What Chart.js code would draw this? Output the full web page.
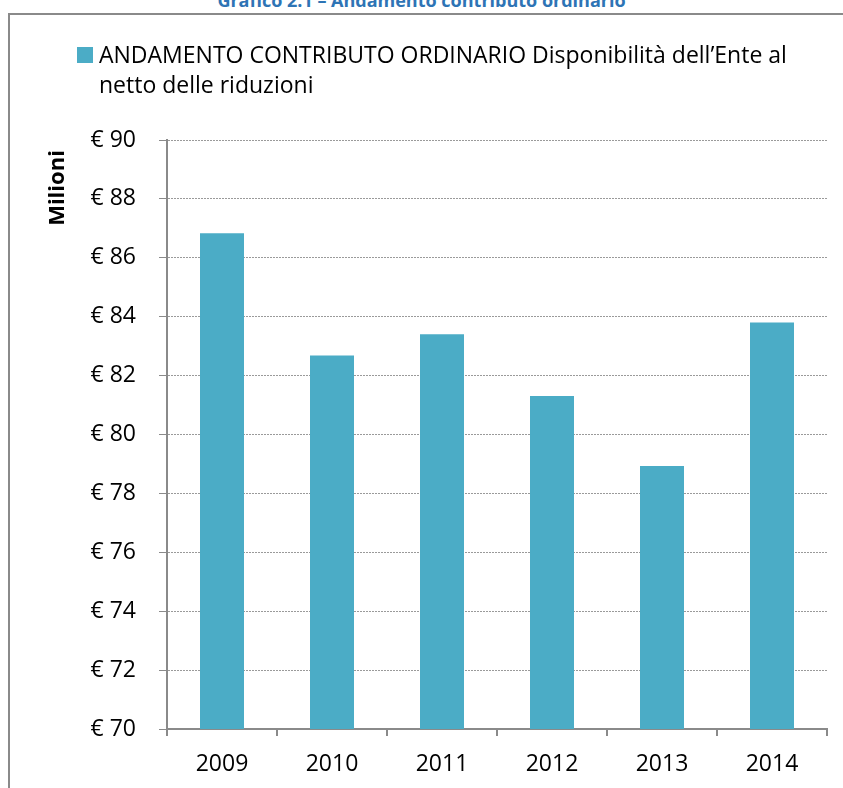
<!DOCTYPE html>
<html>
<head>
<meta charset="utf-8">
<script src="https://cdn.jsdelivr.net/npm/chart.js@4"></script>
<style>
    html, body { margin: 0; padding: 0; width: 843px; height: 788px; overflow: hidden; background: #fff; }
    /* ── figure caption, cut at the top like the original ── */
    #caption {
        position: absolute; left: 0; top: -12px; width: 843px;
        text-align: center; font: bold 18px 'Open Sans', sans-serif; line-height: 24px;
        color: #2E74B5;
    }
    #frame {
        position: absolute; left: 8px; top: 13px; width: 900px; height: 900px;
        border: 2px solid #8a8a8a;
    }
    #chart { position: absolute; left: 0; top: 0; }
</style>
</head>
<body>
<div id="caption">Grafico 2.1 – Andamento contributo ordinario</div>
<div id="frame"></div>
<canvas id="chart" width="843" height="788"></canvas>

<script>
// ── Data ──
const years = ['2009', '2010', '2011', '2012', '2013', '2014'];
const contributo = [86.83, 82.68, 83.40, 81.31, 78.93, 83.80];
const seriesLabel = ['ANDAMENTO CONTRIBUTO ORDINARIO Disponibilità dell’Ente al', 'netto delle riduzioni'];
const yTicks = [70, 72, 74, 76, 78, 80, 82, 84, 86, 88, 90];
const yTitle = 'Milioni';

const barColor = '#4BACC6';
const axisColor = '#8a8a8a';
const fontFamily = "'Open Sans', sans-serif";

// ── Legend + axis title drawn by hand (wrapped text, title near the top) ──
const extrasPlugin = {
    id: 'extras',
    afterDraw: function (chart) {
        const ctx = chart.ctx;
        ctx.save();
        ctx.fillStyle = barColor;
        ctx.fillRect(77, 47, 16, 16);
        ctx.fillStyle = '#000';
        ctx.font = '23px ' + fontFamily;
        ctx.textBaseline = 'alphabetic';
        ctx.textAlign = 'left';
        seriesLabel.forEach(function (line, i) {
            ctx.fillText(line, 99, 63 + i * 30);
        });

        ctx.translate(58, 188);
        ctx.rotate(-Math.PI / 2);
        ctx.font = 'bold 22px ' + fontFamily;
        ctx.textAlign = 'center';
        ctx.textBaseline = 'middle';
        ctx.fillText(yTitle, 0, 0);
        ctx.restore();
    }
};

new Chart(document.getElementById('chart').getContext('2d'), {
    type: 'bar',
    data: {
        labels: years,
        datasets: [{
            label: seriesLabel.join(' '),
            data: contributo,
            backgroundColor: barColor,
            borderWidth: 0,
            barPercentage: 0.4,
            categoryPercentage: 1.0,
        }]
    },
    options: {
        responsive: false,
        animation: false,
        layout: { padding: { top: 140, right: 16, bottom: 0, left: 0 } },
        scales: {
            y: {
                min: 70,
                max: 90,
                afterFit: function (scale) { scale.width = 167; },
                afterBuildTicks: function (scale) {
                    scale.ticks = yTicks.map(function (v) { return { value: v }; });
                },
                ticks: {
                    color: '#000',
                    padding: 23,
                    font: { family: fontFamily, size: 23 },
                    callback: function (v) { return '€ ' + v; },
                },
                grid: {
                    color: '#9a9a9a',
                    tickColor: axisColor,
                    tickBorderDash: [],
                    tickLength: 8,
                    lineWidth: 1,
                },
                // in v4 the dash of the grid lines comes from border.dash
                border: { color: axisColor, width: 2, dash: [2, 1] },
            },
            x: {
                afterFit: function (scale) { scale.height = 59; },
                ticks: {
                    color: '#000',
                    padding: 15,
                    font: { family: fontFamily, size: 23 },
                },
                grid: {
                    offset: true,
                    drawOnChartArea: false,
                    color: axisColor,
                    tickLength: 7,
                    lineWidth: 2,
                },
                border: { color: axisColor, width: 2 },
            }
        },
        plugins: {
            legend: { display: false },
            tooltip: { enabled: false },
        }
    },
    plugins: [extrasPlugin]
});
</script>
</body>
</html>
